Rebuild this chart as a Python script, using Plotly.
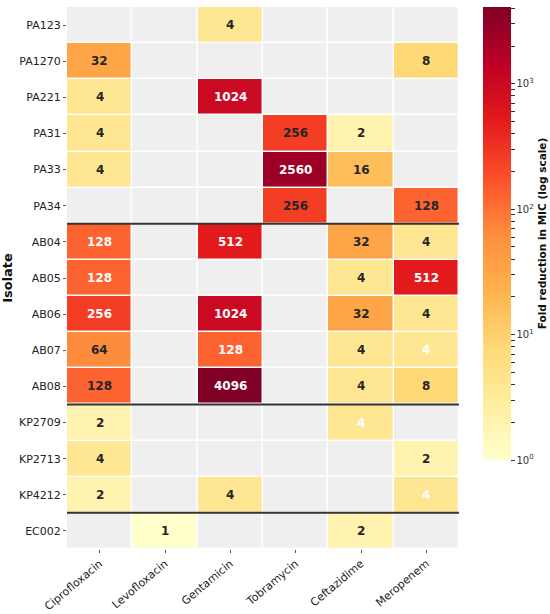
import plotly.graph_objects as go
import numpy as np

isolates = ["PA123", "PA1270", "PA221", "PA31", "PA33", "PA34",
            "AB04", "AB05", "AB06", "AB07", "AB08",
            "KP2709", "KP2713", "KP4212", "EC002"]
antibiotics = ["Ciprofloxacin", "Levofloxacin", "Gentamicin", "Tobramycin", "Ceftazidime", "Meropenem"]

# fold reduction in MIC, one list per antibiotic (None = not tested)
ciprofloxacin = [None, 32, 4, 4, 4, None, 128, 128, 256, 64, 128, 2, 4, 2, None]
levofloxacin = [None, None, None, None, None, None, None, None, None, None, None, None, None, None, 1]
gentamicin = [4, None, 1024, None, None, None, 512, None, 1024, 128, 4096, None, None, 4, None]
tobramycin = [None, None, None, 256, 2560, 256, None, None, None, None, None, None, None, None, None]
ceftazidime = [None, None, None, 2, 16, None, 32, 4, 32, 4, 4, 4, None, None, 2]
meropenem = [None, 8, None, None, None, 128, 4, 512, 4, 4, 8, None, 2, 4, None]

# group boundaries (last isolate of each species group)
group_ends = ["PA34", "AB08", "KP4212"]

# cells whose label is drawn in white in the original
white_labels = [("PA221", "Gentamicin"), ("PA33", "Tobramycin"),
                ("AB04", "Ciprofloxacin"), ("AB04", "Gentamicin"),
                ("AB05", "Ciprofloxacin"), ("AB05", "Meropenem"),
                ("AB06", "Ciprofloxacin"), ("AB06", "Gentamicin"),
                ("AB07", "Gentamicin"), ("AB07", "Meropenem"),
                ("AB08", "Gentamicin"), ("KP2709", "Ceftazidime"),
                ("KP4212", "Meropenem")]

cbar_ticks = [1, 10, 100, 1000]
cbar_ticktext = ["10<sup>0</sup>", "10<sup>1</sup>", "10<sup>2</sup>", "10<sup>3</sup>"]

columns = [ciprofloxacin, levofloxacin, gentamicin, tobramycin, ceftazidime, meropenem]
vals = np.array([[np.nan if v is None else v for v in col] for col in columns], dtype=float).T
zlog = np.log10(vals)
zmax = np.log10(4096)

ylorrd = [[0.0, "#ffffcc"], [0.125, "#ffeda0"], [0.25, "#fed976"], [0.375, "#feb24c"],
          [0.5, "#fd8d3c"], [0.625, "#fc4e2a"], [0.75, "#e31a1c"], [0.875, "#bd0026"],
          [1.0, "#800026"]]

fig = go.Figure()

# grey background for untested cells
fig.add_trace(go.Heatmap(
    z=np.zeros_like(vals), x=antibiotics, y=isolates,
    colorscale=[[0, "#efefef"], [1, "#efefef"]], showscale=False,
    xgap=1.5, ygap=1.5, hoverinfo="skip"
))

# minor ticks on the log colorbar
tickvals, ticktext = [], []
for dec in range(4):
    for m in range(1, 10):
        v = m * 10 ** dec
        if v > 4096:
            break
        tickvals.append(np.log10(v))
        ticktext.append(cbar_ticktext[cbar_ticks.index(v)] if v in cbar_ticks else "")

fig.add_trace(go.Heatmap(
    z=zlog, x=antibiotics, y=isolates,
    colorscale=ylorrd, zmin=0, zmax=zmax,
    xgap=1.5, ygap=1.5,
    customdata=vals,
    hovertemplate="%{y} / %{x}: %{customdata}<extra></extra>",
    colorbar=dict(
        x=1.061, xanchor="left", y=1, yanchor="top", len=0.836,
        thickness=28, outlinewidth=0, xpad=0, ypad=0,
        tickvals=tickvals, ticktext=ticktext,
        ticks="outside", ticklen=4, tickcolor="#333",
        tickfont=dict(size=10, color="#333"),
        title=dict(text="<b>Fold reduction in MIC (log scale)</b>", side="right",
                   font=dict(size=10.5, color="#111"))
    )
))

for i, iso in enumerate(isolates):
    for j, ab in enumerate(antibiotics):
        v = vals[i, j]
        if np.isnan(v):
            continue
        fig.add_annotation(
            x=ab, y=iso, text="<b>%d</b>" % v, showarrow=False,
            font=dict(size=12, color="white" if (iso, ab) in white_labels else "#262626")
        )

for iso in group_ends:
    k = isolates.index(iso) + 0.5
    fig.add_shape(type="line", xref="paper", x0=0, x1=1, yref="y", y0=k, y1=k,
                  line=dict(color="#333", width=2))

fig.update_xaxes(
    tickangle=-40, ticks="outside", ticklen=3, tickcolor="#555",
    tickfont=dict(size=11, color="#222"), showgrid=False, zeroline=False,
    automargin=False
)
fig.update_yaxes(
    autorange="reversed", ticks="outside", ticklen=3, tickcolor="#555",
    tickfont=dict(size=11, color="#222"), showgrid=False, zeroline=False,
    automargin=False,
    title=dict(text="<b>Isolate</b>", font=dict(size=13, color="#111"), standoff=10)
)

fig.update_layout(
    width=550, height=614,
    font=dict(family="DejaVu Sans"),
    plot_bgcolor="white", paper_bgcolor="white",
    margin=dict(l=67, r=91, t=7, b=65, autoexpand=False),
    showlegend=False
)

# drop the default page margin so the figure sits at the window's corner
fig.write_html("out.html", config={"displayModeBar": False},
               post_script="document.body.style.margin = '0';")
